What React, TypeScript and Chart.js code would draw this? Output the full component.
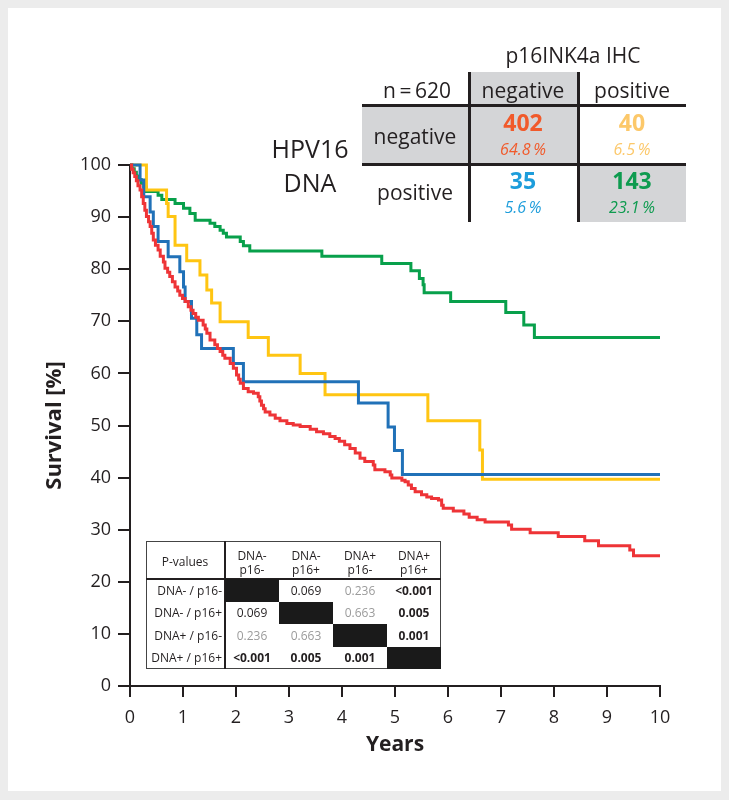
import React, { useEffect, useRef } from "react";
import { Chart, registerables } from "chart.js";

Chart.register(...registerables);

// ---------- data ----------
const redT = [0, 0.03, 0.06, 0.09, 0.12, 0.15, 0.19, 0.22, 0.25, 0.28, 0.31, 0.35, 0.38, 0.41, 0.44, 0.48, 0.53, 0.57, 0.63, 0.66, 0.71, 0.75, 0.8, 0.85, 0.9, 0.94, 0.99, 1.04, 1.1, 1.15, 1.19, 1.24, 1.29, 1.38, 1.42, 1.45, 1.51, 1.6, 1.65, 1.7, 1.75, 1.79, 1.89, 1.95, 2.01, 2.05, 2.08, 2.14, 2.23, 2.33, 2.42, 2.45, 2.48, 2.52, 2.55, 2.64, 2.74, 2.83, 2.96, 3.08, 3.21, 3.4, 3.52, 3.65, 3.77, 3.87, 3.95, 4.05, 4.15, 4.25, 4.34, 4.43, 4.59, 4.62, 4.81, 4.91, 4.94, 5.13, 5.19, 5.25, 5.31, 5.38, 5.5, 5.6, 5.69, 5.82, 5.88, 5.91, 6.1, 6.3, 6.4, 6.55, 6.7, 7.14, 7.2, 7.55, 8.08, 8.58, 8.84, 9.43, 9.5, 10];
const redS = [100, 99.2, 98.5, 97.8, 97.0, 96.0, 95.2, 93.9, 92.6, 91.3, 90.1, 89.1, 88.2, 86.9, 85.6, 84.6, 83.7, 82.5, 81.4, 80.2, 79.4, 78.6, 77.6, 76.6, 75.8, 75.0, 74.4, 73.8, 72.8, 72.1, 71.5, 70.8, 70.2, 69.3, 68.5, 67.7, 66.4, 65.5, 64.8, 64.2, 63.5, 62.9, 61.9, 61.0, 59.7, 58.9, 58.1, 57.1, 56.5, 56.2, 55.5, 54.7, 53.9, 53.2, 52.6, 52.0, 51.4, 50.9, 50.4, 50.1, 49.8, 49.3, 48.8, 48.4, 47.9, 47.5, 47.0, 46.3, 45.6, 44.7, 43.7, 43.1, 42.4, 41.5, 41.1, 40.5, 39.9, 39.5, 39.2, 38.6, 37.9, 37.3, 36.7, 36.3, 36.0, 35.7, 34.7, 34.1, 33.6, 33.0, 32.4, 31.9, 31.5, 30.9, 30.1, 29.4, 28.7, 27.9, 26.9, 26.1, 25.0, 25.0];

const blueT = [0, 0.19, 0.26, 0.38, 0.44, 0.53, 0.72, 0.94, 1.01, 1.04, 1.16, 1.26, 1.35, 1.95, 2.14, 4.31, 4.87, 4.99, 5.14, 10];
const blueS = [100, 97.1, 93.9, 91.0, 88.2, 85.3, 82.4, 79.5, 76.6, 73.8, 70.6, 67.4, 64.8, 61.9, 58.4, 54.3, 49.7, 45.2, 40.6, 40.6];

const yellowT = [0, 0.31, 0.69, 0.72, 0.85, 1.07, 1.32, 1.45, 1.54, 1.7, 2.23, 2.61, 3.21, 3.68, 5.62, 6.6, 6.65, 10];
const yellowS = [100, 95.2, 92.6, 90.1, 84.6, 81.6, 78.9, 76.0, 73.5, 69.9, 66.9, 63.5, 60.0, 55.9, 50.9, 45.3, 39.7, 39.7];

const greenT = [0, 0.04, 0.08, 0.12, 0.16, 0.21, 0.26, 0.31, 0.53, 0.6, 0.85, 1.01, 1.13, 1.23, 1.51, 1.6, 1.7, 1.76, 1.82, 2.08, 2.14, 2.26, 3.62, 4.75, 5.3, 5.46, 5.53, 5.55, 6.05, 7.09, 7.43, 7.63, 10];
const greenS = [100, 99.3, 98.6, 97.9, 97.2, 96.5, 95.8, 94.9, 94.2, 93.4, 92.6, 91.7, 90.7, 89.4, 88.8, 88.2, 87.5, 86.9, 86.2, 85.3, 84.5, 83.5, 82.5, 81.1, 79.7, 78.2, 77.0, 75.5, 73.8, 71.7, 69.3, 66.9, 66.9];

const xTicks = [0, 1, 2, 3, 4, 5, 6, 7, 8, 9, 10];
const yTicks = [0, 10, 20, 30, 40, 50, 60, 70, 80, 90, 100];

const groupLabels = ["DNA- / p16-", "DNA- / p16+", "DNA+ / p16-", "DNA+ / p16+"];
const groupHeads = [["DNA-", "p16-"], ["DNA-", "p16+"], ["DNA+", "p16-"], ["DNA+", "p16+"]];
const pValues = [
  [null, "0.069", "0.236", "<0.001"],
  ["0.069", null, "0.663", "0.005"],
  ["0.236", "0.663", null, "0.001"],
  ["<0.001", "0.005", "0.001", null],
];
const pGray = ["0.236", "0.663"];
const pBold = ["<0.001", "0.005", "0.001"];

const counts = [["402", "40"], ["35", "143"]];
const shares = [["64.8\u2009%", "6.5\u2009%"], ["5.6\u2009%", "23.1\u2009%"]];
const countColors = [["#f15a2b", "#fcc86a"], ["#1d9ddb", "#0e9b4f"]];

const RED = "#ee3437";
const BLUE = "#2071b8";
const YELLOW = "#ffc512";
const GREEN = "#08a04b";
const INK = "#231f20";
const FONT = "'Open Sans', 'Noto Sans', sans-serif";

const pts = (t: number[], s: number[]) => t.map((x, i) => ({ x, y: s[i] }));

function Txt(props: {
  x: number; y: number; size: number; children: any; weight?: number; italic?: boolean;
  color?: string; align?: "center" | "right" | "left";
}) {
  const { x, y, size, children, weight = 400, italic = false, color = INK, align = "center" } = props;
  const w = 300;
  const lh = Math.round(size * 1.4);
  const left = align === "center" ? x - w / 2 : align === "right" ? x - w : x;
  return (
    <div
      style={{
        position: "absolute", left, top: y - lh / 2, width: w, height: lh, lineHeight: lh + "px",
        textAlign: align, fontFamily: FONT, fontSize: size, fontWeight: weight,
        fontStyle: italic ? "italic" : "normal", color, whiteSpace: "nowrap",
      }}
    >
      {children}
    </div>
  );
}

function Box(props: { x: number; y: number; w: number; h: number; bg: string }) {
  return <div style={{ position: "absolute", left: props.x, top: props.y, width: props.w, height: props.h, background: props.bg }} />;
}

export default function App() {
  const ref = useRef<HTMLCanvasElement | null>(null);

  useEffect(() => {
    if (!ref.current) return;
    const mk = (label: string, t: number[], s: number[], color: string) => ({
      label, data: pts(t, s), borderColor: color, backgroundColor: color, borderWidth: 3,
      pointRadius: 0, stepped: "before" as const, fill: false, clip: false as any,
    });
    const chart = new Chart(ref.current, {
      type: "line",
      data: {
        datasets: [
          mk("DNA- / p16-", redT, redS, RED),
          mk("DNA+ / p16-", blueT, blueS, BLUE),
          mk("DNA- / p16+", yellowT, yellowS, YELLOW),
          mk("DNA+ / p16+", greenT, greenS, GREEN),
        ],
      },
      options: {
        animation: false,
        responsive: false,
        events: [],
        layout: { padding: { top: 157, right: 61, left: 0, bottom: 0 } },
        plugins: { legend: { display: false }, tooltip: { enabled: false } },
        scales: {
          x: {
            type: "linear", min: 0, max: 10,
            afterBuildTicks: (s: any) => { s.ticks = xTicks.map((v) => ({ value: v })); },
            afterFit: (s: any) => { s.height = 105; },
            ticks: { font: { family: FONT, size: 18 }, color: INK, padding: 10, maxRotation: 0 },
            grid: { drawOnChartArea: false, drawTicks: true, tickLength: 11, color: INK, lineWidth: 2 },
            border: { color: INK, width: 2 },
            title: { display: true, text: "Years", font: { family: FONT, size: 21, weight: "bold" }, color: INK, padding: { top: 0, bottom: 33 } },
          },
          y: {
            type: "linear", min: 0, max: 100,
            afterBuildTicks: (s: any) => { s.ticks = yTicks.map((v) => ({ value: v })); },
            afterFit: (s: any) => { s.width = 122; },
            ticks: { font: { family: FONT, size: 18 }, color: INK, padding: 7 },
            grid: { drawOnChartArea: false, drawTicks: true, tickLength: 12, color: INK, lineWidth: 2 },
            border: { color: INK, width: 2 },
            title: { display: true, text: "Survival [%]", font: { family: FONT, size: 22, weight: "bold" }, color: INK, padding: { top: 34, bottom: 0 } },
          },
        },
      },
    });
    return () => chart.destroy();
  }, []);

  // p-value table geometry (page coords)
  const pL = 146, pT = 541, pR = 441, pB = 669, pSplitX = 225, pHeadB = 579;
  const colW = (pR - pSplitX) / 4;
  const rowH = (pB - pHeadB) / 4;

  return (
    <div style={{ position: "fixed", left: 0, top: 0, width: 729, height: 800, background: "#ececec", overflow: "hidden" }}>
      <div style={{ position: "absolute", left: 8, top: 8, width: 713, height: 783, background: "#ffffff" }} />
      <canvas ref={ref} width={713} height={783} style={{ position: "absolute", left: 8, top: 8, width: 713, height: 783 }} />

      {/* 2x2 table top right */}
      <Box x={470} y={72} w={107} h={33} bg="#d4d5d7" />
      <Box x={362} y={107} w={106} h={56} bg="#d4d5d7" />
      <Box x={470} y={107} w={107} h={56} bg="#d4d5d7" />
      <Box x={579} y={165} w={107} h={57} bg="#d4d5d7" />
      <Box x={468} y={72} w={3} h={150} bg={INK} />
      <Box x={577} y={72} w={3} h={150} bg={INK} />
      <Box x={362} y={104} w={324} h={3} bg={INK} />
      <Box x={362} y={163} w={324} h={3} bg={INK} />
      <Txt x={573} y={55} size={21}>p16INK4a IHC</Txt>
      <Txt x={417} y={90} size={21}>n{"\u2009=\u2009"}620</Txt>
      <Txt x={523} y={90} size={21}>negative</Txt>
      <Txt x={632} y={90} size={21}>positive</Txt>
      <Txt x={415} y={136} size={21}>negative</Txt>
      <Txt x={415} y={192} size={21}>positive</Txt>
      {counts.map((row, r) =>
        row.map((c, k) => (
          <React.Fragment key={"c" + r + k}>
            <Txt x={523 + k * 109} y={122 + r * 58} size={23} weight={700} color={countColors[r][k]}>{c}</Txt>
            <Txt x={523 + k * 109} y={149 + r * 58} size={16} italic color={countColors[r][k]}>{shares[r][k]}</Txt>
          </React.Fragment>
        ))
      )}
      <Txt x={310} y={148} size={25}>HPV16</Txt>
      <Txt x={310} y={182} size={25}>DNA</Txt>

      {/* p-value table */}
      <div style={{ position: "absolute", left: pL, top: pT, width: pR - pL, height: pB - pT, background: "#fff", border: "1px solid #444", boxSizing: "border-box" }} />
      <Box x={pSplitX - 1} y={pT} w={2} h={pB - pT} bg={INK} />
      <Box x={pL} y={pHeadB - 1} w={pR - pL} h={2} bg={INK} />
      {groupLabels.map((_, i) => (
        <Box key={"blk" + i} x={pSplitX + i * colW} y={pHeadB + i * rowH} w={colW} h={rowH} bg="#1a1a1a" />
      ))}
      <Txt x={185} y={561} size={12}>P-values</Txt>
      {groupHeads.map((h, i) => (
        <React.Fragment key={"h" + i}>
          <Txt x={pSplitX + colW * (i + 0.5)} y={555} size={12}>{h[0]}</Txt>
          <Txt x={pSplitX + colW * (i + 0.5)} y={569} size={12}>{h[1]}</Txt>
        </React.Fragment>
      ))}
      {groupLabels.map((g, r) => (
        <React.Fragment key={"r" + r}>
          <Txt x={222} y={pHeadB + rowH * (r + 0.5)} size={12} align="right">{g}</Txt>
          {pValues[r].map((v, c) =>
            v === null ? null : (
              <Txt key={"v" + r + c} x={pSplitX + colW * (c + 0.5)} y={pHeadB + rowH * (r + 0.5)} size={12}
                weight={pBold.includes(v) ? 700 : 400} color={pGray.includes(v) ? "#9b9b9b" : INK}>
                {v}
              </Txt>
            )
          )}
        </React.Fragment>
      ))}
    </div>
  );
}
